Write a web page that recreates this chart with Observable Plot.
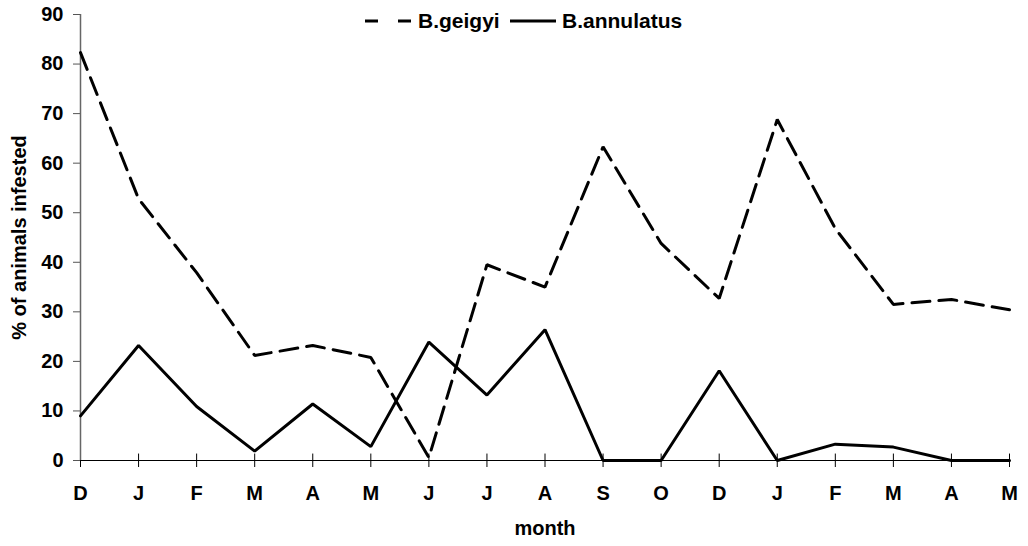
<!DOCTYPE html>
<html>
<head>
<meta charset="utf-8">
<script src="https://cdn.jsdelivr.net/npm/d3@7"></script>
<script src="https://cdn.jsdelivr.net/npm/@observablehq/plot@0.6"></script>
<style>
  body { margin: 0; background: #fff; }
  #wrap { position: relative; width: 1028px; height: 546px; font-family: "Liberation Sans", Arial, sans-serif; font-weight: bold; }
</style>
</head>
<body>
<div id="wrap"></div>
<script>
const months = ["D","J","F","M","A","M","J","J","A","S","O","D","J","F","M","A","M"];
const geigyi = [82.3, 52.8, 37.9, 21.2, 23.2, 20.8, 0.6, 39.5, 35.0, 63.3, 43.8, 32.7, 68.8, 46.8, 31.5, 32.5, 30.4];
const annulatus = [9.0, 23.2, 10.9, 1.9, 11.4, 2.8, 23.9, 13.2, 26.4, 0, 0, 18.1, 0, 3.3, 2.7, 0, 0];
const yTicks = [0, 10, 20, 30, 40, 50, 60, 70, 80, 90];
const seriesNames = ["B.geigyi", "B.annulatus"];

const idx = months.map((_, i) => i);
const rows = [];
idx.forEach(i => rows.push({i, v: geigyi[i], s: seriesNames[0]}));
idx.forEach(i => rows.push({i, v: annulatus[i], s: seriesNames[1]}));

const fontSize = 20;
const chart = Plot.plot({
  width: 1028,
  height: 546,
  marginLeft: 80,
  marginRight: 19,
  marginTop: 14,
  marginBottom: 86,
  style: {fontFamily: '"Liberation Sans", Arial, sans-serif', fontWeight: "bold", fontSize: fontSize + "px", background: "#fff", color: "#000"},
  x: {type: "linear", domain: [0, months.length - 1]},
  y: {domain: [0, 90]},
  marks: [
    Plot.axisY({ticks: yTicks, tickSize: 7, tickPadding: 10, stroke: "#555", fontSize, label: "% of animals infested", labelAnchor: "center", labelArrow: "none", labelOffset: 69}),
    Plot.axisX({ticks: idx, tickSize: 7, tickPadding: 18, tickFormat: i => months[i], fontSize, label: "month", labelAnchor: "center", labelArrow: "none", labelOffset: 74, stroke: "#000"}),
    Plot.ruleX(idx, {x: d => d, y1: 0, y2: 1.3, stroke: "#000", strokeWidth: 1}),
    Plot.ruleX([0], {stroke: "#666", strokeWidth: 1.5}),
    Plot.ruleY([0], {stroke: "#000", strokeWidth: 1.2}),
    Plot.line(rows.filter(d => d.s === seriesNames[0]), {x: "i", y: "v", stroke: "#000", strokeWidth: 3, strokeDasharray: "18,9", strokeLinejoin: "miter"}),
    Plot.line(rows.filter(d => d.s === seriesNames[1]), {x: "i", y: "v", stroke: "#000", strokeWidth: 3, strokeLinejoin: "miter"})
  ]
});
const wrap = document.getElementById("wrap");
wrap.appendChild(chart);

// legend overlay
const ns = "http://www.w3.org/2000/svg";
const leg = document.createElementNS(ns, "svg");
leg.setAttribute("width", 1028);
leg.setAttribute("height", 40);
leg.style.position = "absolute"; leg.style.left = "0"; leg.style.top = "0";
const items = [
  {name: seriesNames[0], x1: 365, x2: 411, tx: 418, dash: "13,20"},
  {name: seriesNames[1], x1: 510, x2: 556, tx: 562, dash: null}
];
items.forEach(it => {
  const l = document.createElementNS(ns, "line");
  l.setAttribute("x1", it.x1); l.setAttribute("x2", it.x2);
  l.setAttribute("y1", 21); l.setAttribute("y2", 21);
  l.setAttribute("stroke", "#000"); l.setAttribute("stroke-width", 3);
  if (it.dash) l.setAttribute("stroke-dasharray", it.dash);
  leg.appendChild(l);
  const t = document.createElementNS(ns, "text");
  t.setAttribute("x", it.tx); t.setAttribute("y", 28);
  t.setAttribute("font-family", '"Liberation Sans", Arial, sans-serif');
  t.setAttribute("font-weight", "bold");
  t.setAttribute("font-size", 21);
  t.textContent = it.name;
  leg.appendChild(t);
});
wrap.appendChild(leg);
</script>
</body>
</html>
